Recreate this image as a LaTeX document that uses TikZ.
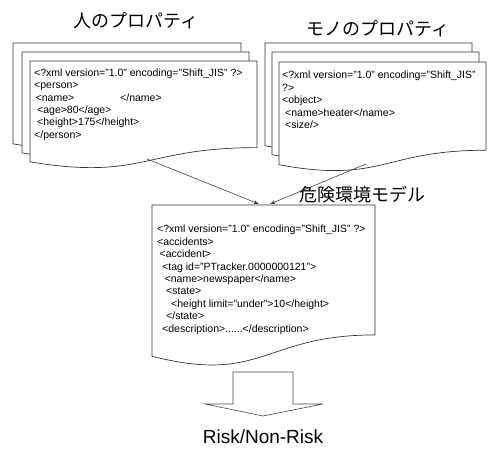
\documentclass[tikz,border=0pt]{standalone}
\usepackage{fontspec}
\setmainfont{Liberation Sans}
\newfontfamily\jpfont{Noto Sans CJK JP}

\tikzset{
	xmlpicture/.style = {
		x = 1pt,
		y = -1pt,
		>=latex,
		arrow/.style = {
			draw = black!75,
			line width = 0.6pt,
			->,
		}
	},
	docshape/.style = {
		draw = black!80,
		fill = white,
		line width = 0.7pt
	},
	xmltext/.style = {
		anchor = north west,
		inner sep = 0pt,
		align = left,
		font = \fontsize{10.5}{12.4}\selectfont
	},
	jptitle/.style = {
		font = \jpfont\fontsize{18}{18}\selectfont
	},
	bigarrow/.style = {
		draw = black!70,
		fill = white,
		line width = 0.6pt
	},
	result/.style = {
		font = \fontsize{19}{19}\selectfont
	}
}

% document outline: name, x, y, width, height
\newcommand{\xmldoc}[5]{%
	\filldraw[docshape] (#2,#3) -- ({#2+#4},#3) -- ({#2+#4},{#3+0.802*#5})
		.. controls ({#2+0.5*#4},{#3+0.802*#5}) and ({#2+0.5*#4},{#3+1.1075*#5}) .. (#2,{#3+0.934*#5}) -- cycle;
	\coordinate (#1) at (#2,#3);
}

\newcommand{\persontext}{%
<?xml version="1.0" encoding="Shift\_JIS" ?>\\
<person>\\
\hspace*{1.5pt}<name>\hspace{46pt}</name>\\
\hspace*{3pt}<age>80</age>\\
\hspace*{3pt}<height>175</height>\\
</person>}

\newcommand{\objecttext}{%
<?xml version="1.0" encoding="Shift\_JIS"\\
?>\\
<object>\\
\hspace*{3pt}<name>heater</name>\\
\hspace*{3pt}<size/>}

\newcommand{\modeltext}{%
<?xml version="1.0" encoding="Shift\_JIS" ?>\\
<accidents>\\
\hspace*{2.5pt}<accident>\\
\hspace*{5pt}<tag id="PTracker.0000000121">\\
\hspace*{7.5pt}<name>newspaper</name>\\
\hspace*{9pt}<state>\\
\hspace*{14pt}<height limit="under">10</height>\\
\hspace*{9pt}</state>\\
\hspace*{5pt}<description>......</description>}

\begin{document}
\begin{tikzpicture}[xmlpicture]
	\useasboundingbox (0,0) rectangle (488,449);

	% person properties
	\node[jptitle] (person-title) at (136,21) {人のプロパティ};
	\xmldoc{person-back}{13}{43}{228}{108}
	\xmldoc{person-mid}{22}{52}{227}{108}
	\xmldoc{person-front}{30}{61}{227}{108}
	\node[xmltext] (person-txt) at ([shift={(4,7.5)}]person-front) {\persontext};

	% object properties
	\node[jptitle] (object-title) at (378,29) {モノのプロパティ};
	\xmldoc{object-back}{265}{43}{207}{110}
	\xmldoc{object-mid}{272}{52}{207}{110}
	\xmldoc{object-front}{279}{62}{207}{110}
	\node[xmltext] (object-txt) at ([shift={(3,9)}]object-front) {\objecttext};

	% hazard model
	\node[jptitle] (model-title) at (362,195) {危険環境モデル};
	\xmldoc{model}{152}{205}{223}{162}
	\node[xmltext] (model-txt) at ([shift={(5,20)}]model) {\modeltext};

	\coordinate (person-out) at (147,159);
	\coordinate (object-out) at (366,164);
	\coordinate (model-in-l) at (259,204);
	\coordinate (model-in-r) at (270,204);

	\begin{scope}[every path/.style = arrow]
		\path (person-out) to (model-in-l);
		\path (object-out) to (model-in-r);
	\end{scope}

	% result
	\draw[bigarrow] (233,372) -- (293,372) -- (293,404) -- (323,404) -- (263,416)
		-- (205,404) -- (233,404) -- cycle;
	\node[result] (result) at (263,437) {Risk/Non-Risk};
\end{tikzpicture}
\end{document}
